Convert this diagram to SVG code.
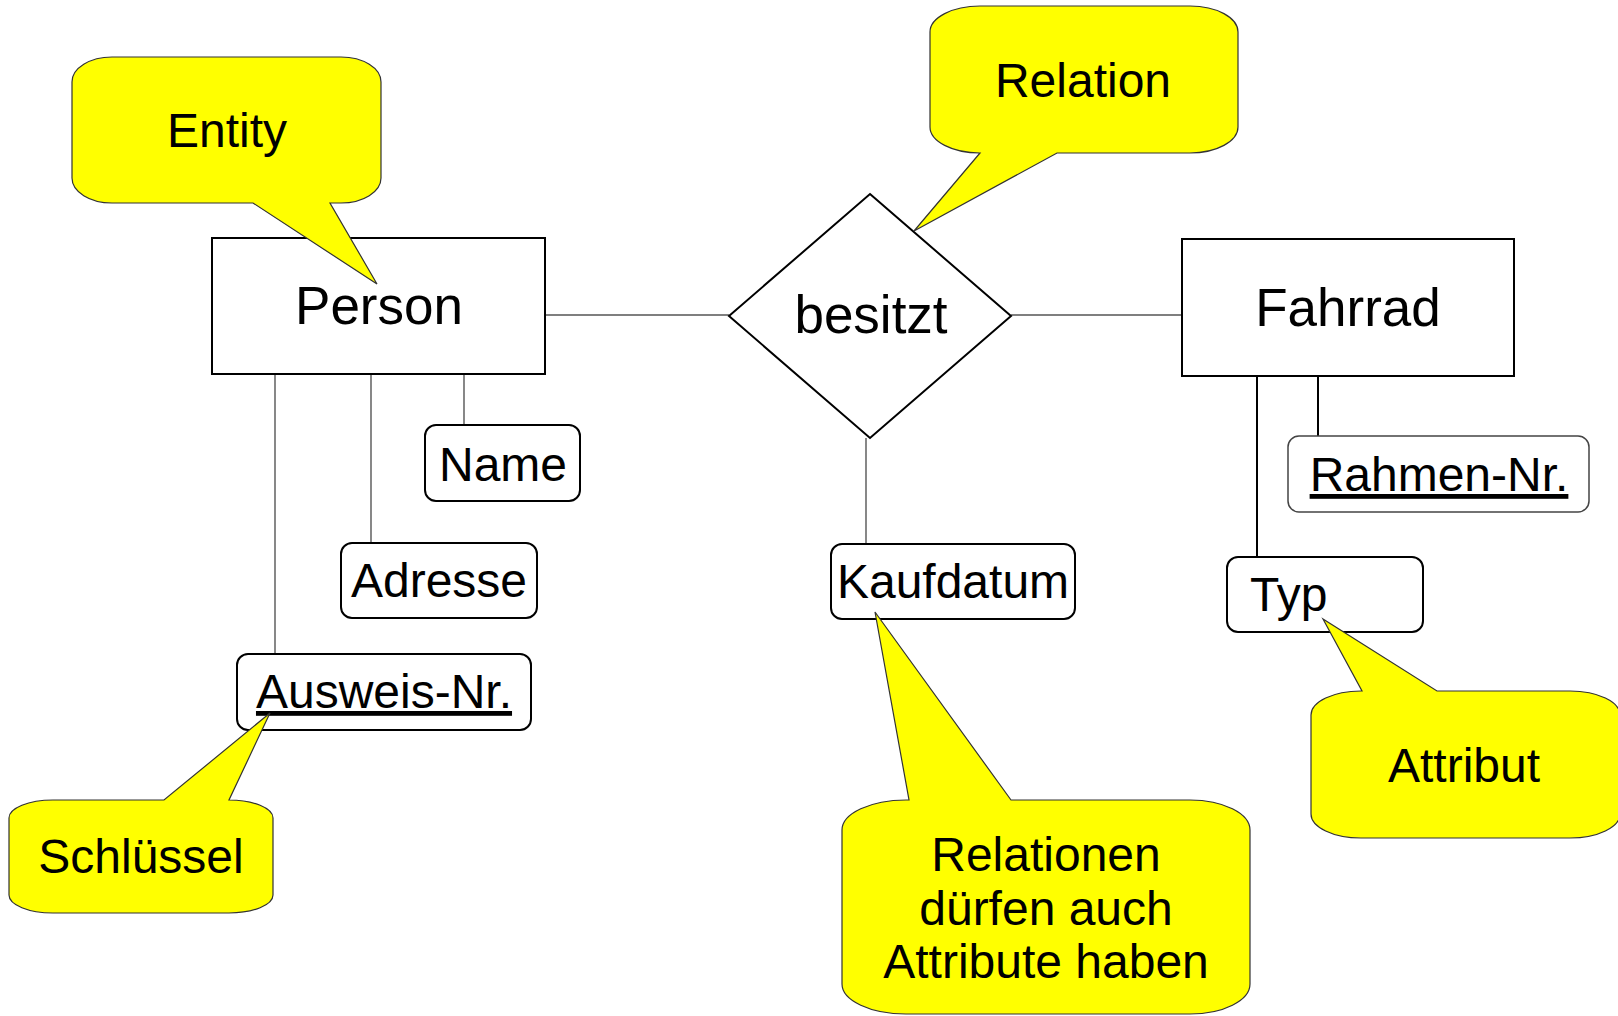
<svg xmlns="http://www.w3.org/2000/svg" width="1618" height="1016" viewBox="0 0 1618 1016">
  <style>
    text { font-family: "Liberation Sans", Arial, Helvetica, sans-serif; fill: #000; }
    .entity { fill: #fff; stroke: #000; stroke-width: 2; }
    .attr { fill: #fff; stroke: #000; stroke-width: 2; }
    .attr-light { fill: #fff; stroke: #444; stroke-width: 1.5; }
    .big { font-size: 53px; text-anchor: middle; }
    .mid { font-size: 48px; text-anchor: middle; }
    .key { text-decoration: underline; }
    .callout { fill: #ffff00; stroke: #333; stroke-width: 1.2; stroke-linejoin: miter; }
    .conn { stroke: #555; stroke-width: 1.4; fill: none; }
    .conn-dark { stroke: #000; stroke-width: 2; fill: none; }
  </style>

  <rect width="1618" height="1016" fill="#fff"/>

  <!-- connectors -->
  <g id="connectors">
    <line class="conn" x1="545" y1="315" x2="729" y2="315"/>
    <line class="conn" x1="1011" y1="315" x2="1182" y2="315"/>
    <line class="conn" x1="866" y1="438" x2="866" y2="544"/>
    <line class="conn" x1="275" y1="374" x2="275" y2="654"/>
    <line class="conn" x1="371" y1="374" x2="371" y2="543"/>
    <line class="conn" x1="464" y1="374" x2="464" y2="425"/>
    <line class="conn-dark" x1="1257" y1="376" x2="1257" y2="557"/>
    <line class="conn-dark" x1="1318" y1="376" x2="1318" y2="436"/>
  </g>

  <!-- entities -->
  <g id="person">
    <rect class="entity" x="212" y="238" width="333" height="136"/>
    <text class="big" x="379" y="324">Person</text>
  </g>
  <g id="fahrrad">
    <rect class="entity" x="1182" y="239" width="332" height="137"/>
    <text class="big" x="1348" y="326">Fahrrad</text>
  </g>

  <!-- relationship -->
  <g id="besitzt">
    <polygon class="entity" points="870,194 1011,316 870,438 729,316"/>
    <text class="big" x="871" y="333">besitzt</text>
  </g>

  <!-- attributes -->
  <g id="name">
    <rect class="attr" x="425" y="425" width="155" height="76" rx="11"/>
    <text class="mid" x="503" y="481">Name</text>
  </g>
  <g id="adresse">
    <rect class="attr" x="341" y="543" width="196" height="75" rx="11"/>
    <text class="mid" x="439" y="597">Adresse</text>
  </g>
  <g id="ausweis-nr">
    <rect class="attr" x="237" y="654" width="294" height="76" rx="11"/>
    <text class="mid key" x="384" y="708">Ausweis-Nr.</text>
  </g>
  <g id="kaufdatum">
    <rect class="attr" x="831" y="544" width="244" height="75" rx="11"/>
    <text class="mid" x="953" y="598">Kaufdatum</text>
  </g>
  <g id="rahmen-nr">
    <rect class="attr-light" x="1288" y="436" width="301" height="76" rx="11"/>
    <text class="mid key" x="1439" y="491">Rahmen-Nr.</text>
  </g>
  <g id="typ">
    <rect class="attr" x="1227" y="557" width="196" height="75" rx="11"/>
    <text style="font-size:48px" x="1250" y="611">Typ</text>
  </g>

  <!-- explanatory callouts -->
  <g id="callout-entity">
    <path class="callout" d="M 112,57 H 341 A 40 25 0 0 1 381,82 V 178 A 40 25 0 0 1 341,203 H 330 L 377,284 L 253,203 H 112 A 40 25 0 0 1 72,178 V 82 A 40 25 0 0 1 112,57 Z"/>
    <text class="mid" x="227" y="147">Entity</text>
  </g>
  <g id="callout-relation">
    <path class="callout" d="M 980,6 H 1190 A 48 26 0 0 1 1238,32 V 127 A 48 26 0 0 1 1190,153 H 1057 L 914,231 L 980,153 A 50 26 0 0 1 930,127 V 32 A 50 26 0 0 1 980,6 Z"/>
    <text class="mid" x="1083" y="97">Relation</text>
  </g>
  <g id="callout-schluessel">
    <path class="callout" d="M 53,800 H 164 L 270,713 L 229,800 A 44 18 0 0 1 273,818 V 895 A 44 18 0 0 1 229,913 H 53 A 44 18 0 0 1 9,895 V 818 A 44 18 0 0 1 53,800 Z"/>
    <text class="mid" x="141" y="873">Schlüssel</text>
  </g>
  <g id="callout-relationen">
    <path class="callout" d="M 906,800 H 909 L 875,612 L 1011,800 H 1190 A 60 30 0 0 1 1250,830 V 984 A 60 30 0 0 1 1190,1014 H 906 A 64 30 0 0 1 842,984 V 830 A 64 30 0 0 1 906,800 Z"/>
    <text class="mid" x="1046" y="871">Relationen</text>
    <text class="mid" x="1046" y="925">dürfen auch</text>
    <text class="mid" x="1046" y="978">Attribute haben</text>
  </g>
  <g id="callout-attribut">
    <path class="callout" d="M 1361,691 H 1362 L 1323,619 L 1437,691 H 1570 A 50 24 0 0 1 1620,715 V 814 A 50 24 0 0 1 1570,838 H 1361 A 50 24 0 0 1 1311,814 V 715 A 50 24 0 0 1 1361,691 Z"/>
    <text class="mid" x="1464" y="782">Attribut</text>
  </g>
</svg>
